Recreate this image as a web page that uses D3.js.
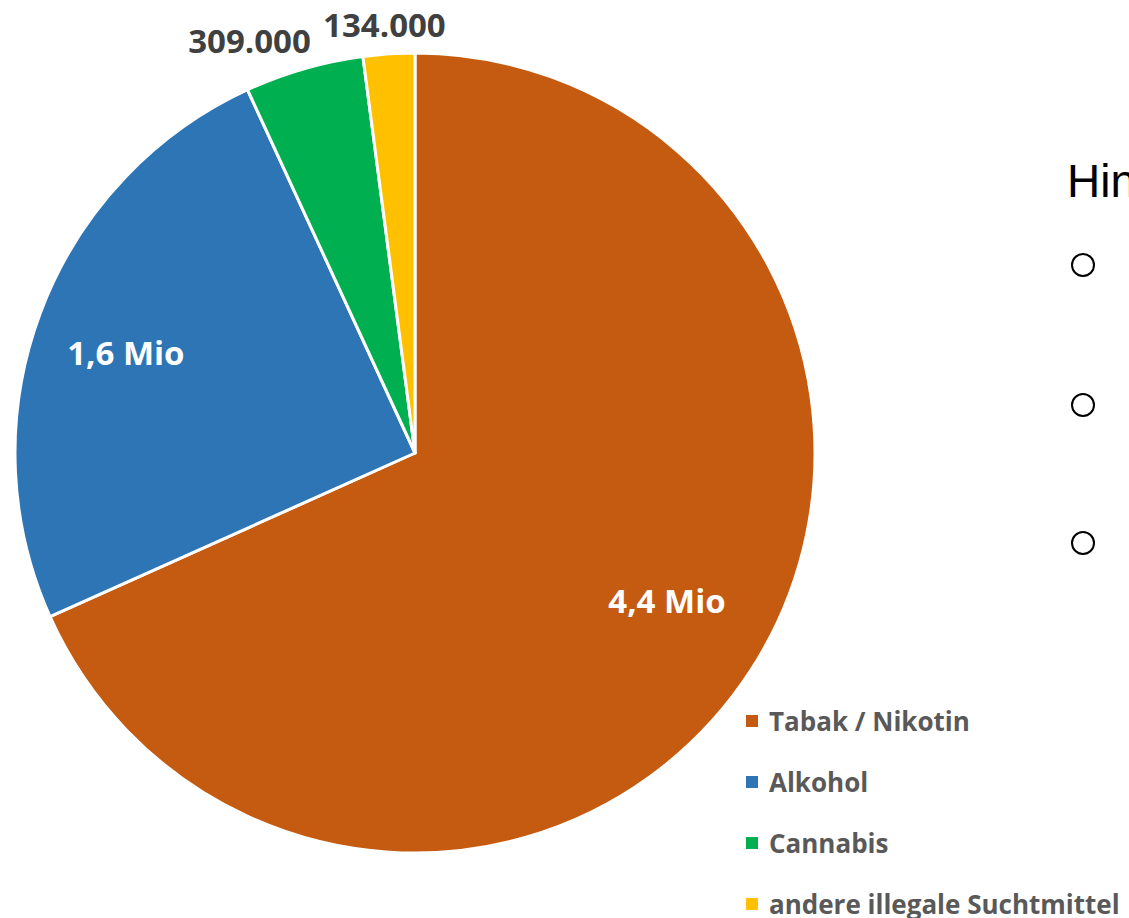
<!DOCTYPE html>
<html><head><meta charset="utf-8">
<script src="https://cdn.jsdelivr.net/npm/d3@7"></script>
<style>
html,body{margin:0;padding:0;background:#fff;}
svg{display:block;}
</style></head>
<body>
<svg id="c" width="1129" height="918"></svg>
<script>
const categories = ["Tabak / Nikotin", "Alkohol", "Cannabis", "andere illegale Suchtmittel"];
const values = [4400000, 1600000, 309000, 134000];
const valueLabels = ["4,4 Mio", "1,6 Mio", "309.000", "134.000"];
const colors = ["#C55A11", "#2E75B6", "#00B050", "#FFC000"];

const svg = d3.select("#c");
const cx = 415, cy = 453, R = 400;
const font = "'Open Sans', 'DejaVu Sans', sans-serif";

const pie = d3.pie().sort(null).value(d => d)(values);
const arc = d3.arc().innerRadius(0).outerRadius(R);
const g = svg.append("g").attr("transform", `translate(${cx},${cy})`);

g.selectAll("path.slice").data(pie).join("path")
  .attr("class", "slice")
  .attr("d", arc)
  .attr("fill", (d, i) => colors[i])
  .attr("stroke", "#fff")
  .attr("stroke-width", 3)
  .attr("stroke-linejoin", "round");

// labels: inside for large slices, outside for small ones
const polar = (ang, r) => [r * Math.sin(ang), -r * Math.cos(ang)];
pie.forEach((d, i) => {
  const mid = (d.startAngle + d.endAngle) / 2;
  let x, y, fill;
  if (i < 2) {
    [x, y] = polar(mid - (i === 0 ? 0.045 : 0.025), (i === 0 ? 0.73 : 0.765) * R);
    fill = "#fff";
  } else {
    const shift = i === 2 ? -0.1 : -0.006;
    [x, y] = polar(mid + shift, i === 2 ? 1.112 * R : 1.073 * R);
    fill = "#404040";
  }
  g.append("text")
    .attr("x", x).attr("y", y)
    .attr("text-anchor", "middle")
    .attr("dominant-baseline", "central")
    .attr("font-family", font)
    .attr("font-weight", 700)
    .attr("font-size", 33)
    .attr("fill", fill)
    .text(valueLabels[i]);
});

// legend
const leg = svg.append("g").attr("transform", "translate(746,721)");
const row = leg.selectAll("g").data(categories).join("g")
  .attr("transform", (d, i) => `translate(0,${i * 61})`);
row.append("rect").attr("x", 0).attr("y", -6).attr("width", 12).attr("height", 12)
  .attr("fill", (d, i) => colors[i]);
row.append("text").attr("x", 23).attr("y", 0)
  .attr("dominant-baseline", "central")
  .attr("font-family", font).attr("font-weight", 700).attr("font-size", 26)
  .attr("fill", "#595959")
  .text(d => d);

// background slide text (clipped on right)
svg.append("text").attr("x", 1067).attr("y", 197)
  .attr("font-family", "'Liberation Sans', Arial, sans-serif")
  .attr("font-size", 46).attr("fill", "#000").text("Hinweise");
[265, 405, 543].forEach(y => {
  svg.append("circle").attr("cx", 1083).attr("cy", y).attr("r", 11)
    .attr("fill", "none").attr("stroke", "#000").attr("stroke-width", 2);
});
</script>
</body></html>
